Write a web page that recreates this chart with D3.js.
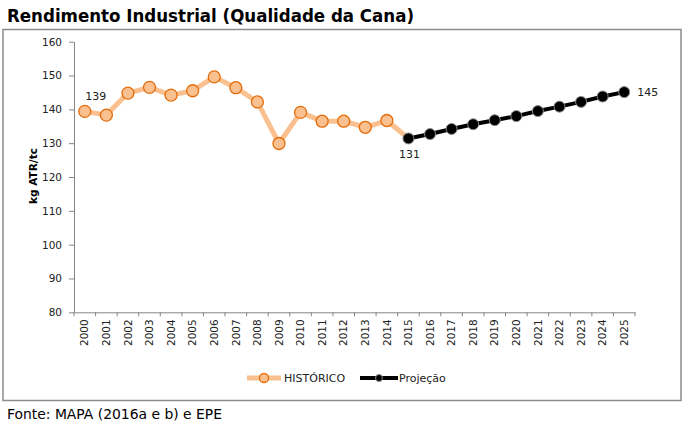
<!DOCTYPE html>
<html lang="pt">
<meta charset="utf-8">
<head>
	<title>Rendimento Industrial</title>
	<script src="https://d3js.org/d3.v7.min.js"></script>
</head>
<style type="text/css">
	body { margin: 0; background: white; }
	.chartTitle { font-family: 'DejaVu Sans Condensed', 'DejaVu Sans', sans-serif; font-weight: bold; font-size: 18.5px; }
	.tick text { font-family: 'DejaVu Sans', sans-serif; font-size: 10.5px; fill: #222; }
	.axis path, .axis line { stroke: #868686; }
	.axisTitle { font-family: 'DejaVu Sans', sans-serif; font-weight: bold; font-size: 10.5px; }
	.label, .legend { font-family: 'DejaVu Sans', sans-serif; font-size: 11px; fill: #222; }
	.source { font-family: 'DejaVu Sans', sans-serif; font-size: 13.9px; }
</style>
<body>
<script type="text/javascript">

	var years = ["2000","2001","2002","2003","2004","2005","2006","2007","2008","2009","2010","2011","2012",
				 "2013","2014","2015","2016","2017","2018","2019","2020","2021","2022","2023","2024","2025"];
	var histYears = years.slice(0, 16);
	var histValues = [139.4, 138.3, 144.8, 146.5, 144.2, 145.5, 149.6, 146.4, 142.2, 129.9, 139.1, 136.5, 136.5, 134.7, 136.7, 131.4];
	var projYears = years.slice(15);
	var projValues = [131.4, 132.7, 134.2, 135.6, 136.8, 138.0, 139.5, 140.8, 142.2, 143.8, 145.1];
	var yTicks = [80, 90, 100, 110, 120, 130, 140, 150, 160];

	var width = 684, height = 425;
	var plotLeft = 74, plotRight = 635, plotTop = 41.7, plotBottom = 312.3;

	var svg = d3.select("body").append("svg")
				.attr("width", width)
				.attr("height", height);

	svg.append("text")
	   .attr("class", "chartTitle")
	   .attr("x", 7)
	   .attr("y", 21.5)
	   .text("Rendimento Industrial (Qualidade da Cana)");

	// frame
	svg.append("rect")
	   .attr("x", 3).attr("y", 29.5)
	   .attr("width", 678).attr("height", 371)
	   .attr("fill", "none")
	   .attr("stroke", "#8c8c8c")
	   .attr("stroke-width", 1.5);

	var x = d3.scaleBand().domain(years).range([plotLeft, plotRight]);
	var y = d3.scaleLinear().domain([80, 160]).range([plotBottom, plotTop]);

	var yAxis = svg.append("g")
				   .attr("class", "axis")
				   .attr("transform", "translate(" + plotLeft + ",0)")
				   .call(d3.axisLeft(y).tickValues(yTicks).tickSize(5).tickPadding(7).tickSizeOuter(0));

	var xAxis = svg.append("g")
				   .attr("class", "axis")
				   .attr("transform", "translate(0," + plotBottom + ")")
				   .call(d3.axisBottom(x).tickSize(0).tickSizeOuter(0));
	xAxis.selectAll(".tick text")
		 .attr("transform", "rotate(-90)")
		 .attr("text-anchor", "end")
		 .attr("x", -7)
		 .attr("y", 0)
		 .attr("dy", "0.35em");

	// tick marks between categories
	xAxis.selectAll(".sep")
		 .data(years.concat(["end"]))
		 .enter().append("line")
		 .attr("x1", function(d, i) { return plotLeft + i * x.bandwidth(); })
		 .attr("x2", function(d, i) { return plotLeft + i * x.bandwidth(); })
		 .attr("y1", 0).attr("y2", 4)
		 .attr("stroke", "#868686");

	svg.append("text")
	   .attr("class", "axisTitle")
	   .attr("transform", "translate(36.5,176)rotate(-90)")
	   .attr("text-anchor", "middle")
	   .text("kg ATR/tc");

	var cx = function(d) { return x(d) + x.bandwidth() / 2; };

	var line = d3.line()
				 .x(function(d) { return cx(d[0]); })
				 .y(function(d) { return y(d[1]); });

	var hist = d3.zip(histYears, histValues),
		proj = d3.zip(projYears, projValues);

	svg.append("path")
	   .datum(hist)
	   .attr("d", line)
	   .attr("fill", "none")
	   .attr("stroke", "#fac090")
	   .attr("stroke-width", 5)
	   .attr("stroke-linejoin", "round");

	svg.selectAll(".histDot")
	   .data(hist.slice(0, 15))
	   .enter().append("circle")
	   .attr("cx", function(d) { return cx(d[0]); })
	   .attr("cy", function(d) { return y(d[1]); })
	   .attr("r", 6)
	   .attr("fill", "#fac090")
	   .attr("stroke", "#e46c0a")
	   .attr("stroke-width", 1.3);

	svg.append("path")
	   .datum(proj)
	   .attr("d", line)
	   .attr("fill", "none")
	   .attr("stroke", "black")
	   .attr("stroke-width", 4);

	svg.selectAll(".projDot")
	   .data(proj)
	   .enter().append("circle")
	   .attr("cx", function(d) { return cx(d[0]); })
	   .attr("cy", function(d) { return y(d[1]); })
	   .attr("r", 5.5)
	   .attr("fill", "black")
	   .attr("stroke", "#8a8a8a")
	   .attr("stroke-width", 1);

	// data labels
	svg.append("text").attr("class", "label")
	   .attr("x", cx("2000") + 11).attr("y", y(histValues[0]) - 11)
	   .attr("text-anchor", "middle")
	   .text(Math.floor(histValues[0]));
	svg.append("text").attr("class", "label")
	   .attr("x", cx("2015") + 1).attr("y", y(projValues[0]) + 20)
	   .attr("text-anchor", "middle")
	   .text(Math.floor(projValues[0]));
	svg.append("text").attr("class", "label")
	   .attr("x", cx("2025") + 13).attr("y", y(projValues[projValues.length - 1]) + 4)
	   .text(Math.floor(projValues[projValues.length - 1]));

	// legend
	var lg = svg.append("g").attr("transform", "translate(0,378)");
	lg.append("line").attr("x1", 247).attr("x2", 281).attr("y1", 0).attr("y2", 0)
	  .attr("stroke", "#fac090").attr("stroke-width", 5);
	lg.append("circle").attr("cx", 264).attr("cy", 0).attr("r", 4.5)
	  .attr("fill", "#fac090").attr("stroke", "#e46c0a").attr("stroke-width", 1.3);
	lg.append("text").attr("class", "legend").attr("x", 284).attr("y", 4).text("HISTÓRICO");
	lg.append("line").attr("x1", 360).attr("x2", 398).attr("y1", 0).attr("y2", 0)
	  .attr("stroke", "black").attr("stroke-width", 4);
	lg.append("circle").attr("cx", 379).attr("cy", 0).attr("r", 3.5)
	  .attr("fill", "black").attr("stroke", "#8a8a8a").attr("stroke-width", 1);
	lg.append("text").attr("class", "legend").attr("x", 399).attr("y", 4).text("Projeção");

	svg.append("text")
	   .attr("class", "source")
	   .attr("x", 7)
	   .attr("y", 419)
	   .text("Fonte: MAPA (2016a e b) e EPE");

</script>
</body>
</html>
